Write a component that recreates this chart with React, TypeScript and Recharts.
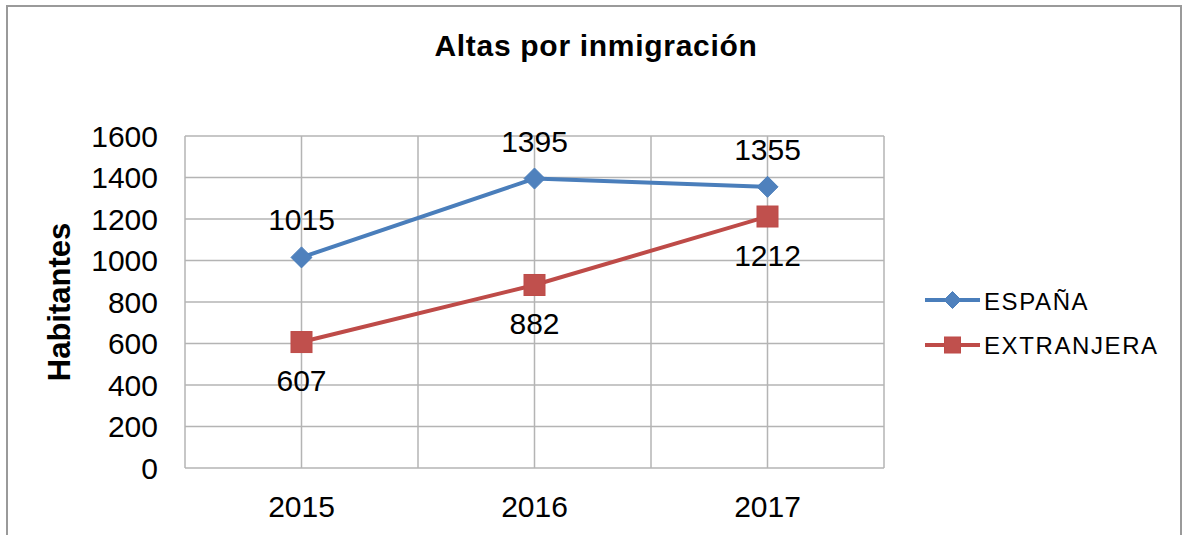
import React from 'react';
import { LineChart, Line, XAxis, YAxis, CartesianGrid, LabelList } from 'recharts';

const years = ['2015', '2016', '2017'];
const espana = [1015, 1395, 1355];
const extranjera = [607, 882, 1212];
const yTicks = [0, 200, 400, 600, 800, 1000, 1200, 1400, 1600];
const seriesNames = ['ESPAÑA', 'EXTRANJERA'];

const data = years.map((y, i) => ({ year: y, espana: espana[i], extranjera: extranjera[i] }));

const BLUE = '#4A7EBB';
const BLUE_FILL = '#4F81BD';
const RED = '#BE4B48';
const RED_FILL = '#C0504D';
const GRID = '#b4b4b4';
const FONT = '"Liberation Sans", Arial, sans-serif';

const Diamond = (props: any) => {
  const { cx, cy } = props;
  if (cx == null || cy == null) return null;
  const r = 10.5;
  return (
    <polygon
      points={`${cx},${cy - r} ${cx + r},${cy} ${cx},${cy + r} ${cx - r},${cy}`}
      fill={BLUE_FILL}
      stroke={BLUE}
      strokeWidth={1}
    />
  );
};

const Square = (props: any) => {
  const { cx, cy } = props;
  if (cx == null || cy == null) return null;
  const r = 10.5;
  return <rect x={cx - r} y={cy - r} width={2 * r} height={2 * r} fill={RED_FILL} stroke={RED} strokeWidth={1} />;
};

const vGen = ({ offset }: any) => {
  const n = years.length * 2;
  const arr: number[] = [];
  for (let i = 0; i <= n; i++) arr.push(offset.left + (offset.width * i) / n);
  return arr;
};

export default function App() {
  return (
    <div style={{ position: 'absolute', left: 0, top: 0, width: 1187, height: 535, overflow: 'hidden', background: '#fff' }}>
      <div
        style={{
          position: 'absolute',
          left: 6,
          top: 5,
          width: 1176,
          height: 560,
          border: '2px solid #9a9a9a',
          boxSizing: 'border-box',
        }}
      />
      <div style={{ position: 'absolute', left: 0, top: 0 }}>
        <LineChart width={1187} height={535} data={data} margin={{ top: 136, right: 303, left: 0, bottom: 0 }}>
          <CartesianGrid stroke={GRID} strokeWidth={1.5} verticalCoordinatesGenerator={vGen} />
          <XAxis
            dataKey="year"
            scale="band"
            height={67}
            tickLine={false}
            axisLine={false}
            tickSize={0}
            tickMargin={28}
            tick={{ fontSize: 30, fill: '#000', fontFamily: FONT }}
          />
          <YAxis
            width={185}
            domain={[0, 1600]}
            ticks={yTicks}
            interval={0}
            tickLine={false}
            axisLine={false}
            tickSize={0}
            tickMargin={27}
            tick={{ fontSize: 30, fill: '#000', fontFamily: FONT }}
          />
          <Line
            type="linear"
            dataKey="espana"
            name={seriesNames[0]}
            stroke={BLUE}
            strokeWidth={4}
            dot={(p: any) => <Diamond key={`d${p.index}`} {...p} />}
            activeDot={false}
            isAnimationActive={false}
          >
            <LabelList dataKey="espana" position="top" offset={27} fill="#000" fontSize={30} fontFamily={FONT} />
          </Line>
          <Line
            type="linear"
            dataKey="extranjera"
            name={seriesNames[1]}
            stroke={RED}
            strokeWidth={4}
            dot={(p: any) => <Square key={`s${p.index}`} {...p} />}
            activeDot={false}
            isAnimationActive={false}
          >
            <LabelList dataKey="extranjera" position="bottom" offset={28} fill="#000" fontSize={30} fontFamily={FONT} />
          </Line>
        </LineChart>
      </div>
      <svg width={1187} height={535} style={{ position: 'absolute', left: 0, top: 0, pointerEvents: 'none' }}>
        <text x={596} y={56} textAnchor="middle" fontSize={30} fontWeight="bold" fontFamily={FONT} letterSpacing={0.7} fill="#000">
          Altas por inmigración
        </text>
        <text
          x={70}
          y={302}
          transform="rotate(-90, 70, 302)"
          textAnchor="middle"
          fontSize={31}
          fontWeight="bold"
          fontFamily={FONT}
          fill="#000"
        >
          Habitantes
        </text>
        <g>
          <line x1={925} y1={300} x2={980} y2={300} stroke={BLUE} strokeWidth={4} />
          <polygon points="952.5,291.5 961,300 952.5,308.5 944,300" fill={BLUE_FILL} stroke={BLUE} strokeWidth={1} />
          <text x={984} y={309.5} fontSize={24} letterSpacing={1.6} fontFamily={FONT} fill="#000">
            {seriesNames[0]}
          </text>
        </g>
        <g>
          <line x1={925} y1={345} x2={980} y2={345} stroke={RED} strokeWidth={4} />
          <rect x={944.5} y={337} width={16} height={16} fill={RED_FILL} stroke={RED} strokeWidth={1} />
          <text x={984} y={354} fontSize={24} letterSpacing={1.6} fontFamily={FONT} fill="#000">
            {seriesNames[1]}
          </text>
        </g>
      </svg>
    </div>
  );
}
